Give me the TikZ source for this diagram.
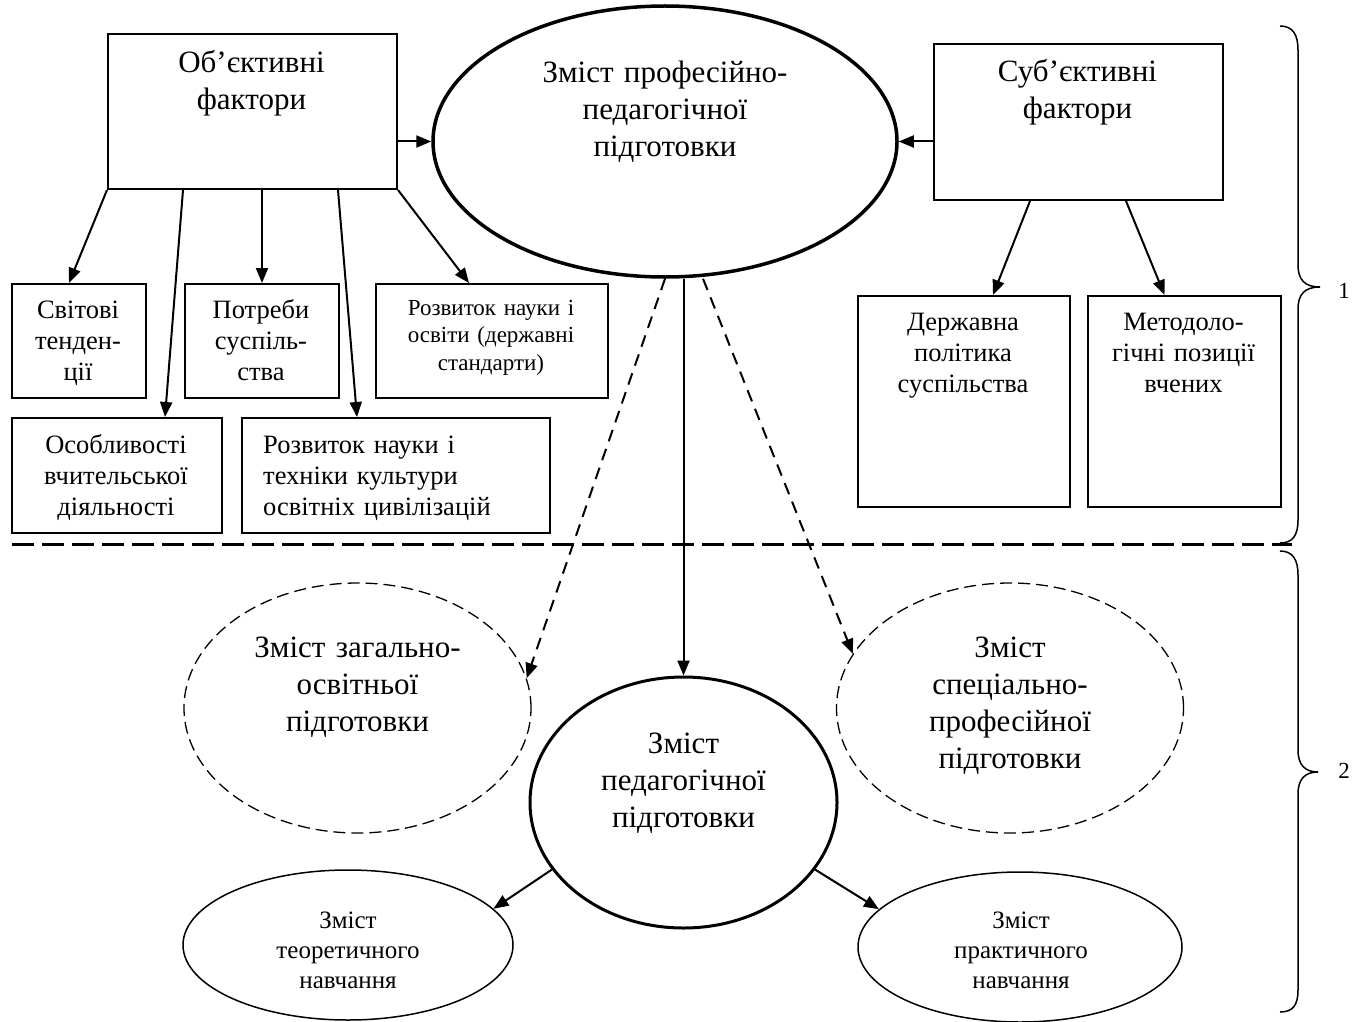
\documentclass[tikz,border=0pt]{standalone}
\usepackage{fontspec}
\setmainfont{Liberation Serif}
\usetikzlibrary{shapes.geometric,arrows.meta}
\tikzset{
  box/.style={draw, line width=2pt, inner sep=0pt, anchor=north west},
  lbl/.style={anchor=base, align=center, inner sep=0pt, text width=340pt},
  big/.style={font=\fontsize{31}{37}\selectfont},
  mid/.style={font=\fontsize{26.5}{31}\selectfont},
  sml/.style={font=\fontsize{23}{27.5}\selectfont},
  arr/.style={line width=2pt, -{Triangle[length=15pt,width=12pt]}},
  darr/.style={line width=2pt, dash pattern=on 12pt off 8pt, -{Triangle[length=15pt,width=12pt]}},
  oval/.style={ellipse, draw, inner sep=0pt},
}
\begin{document}
\begin{tikzpicture}[x=1pt,y=-1pt]
\useasboundingbox (0,0) rectangle (1362,1022);
% top boxes
\node[box, minimum width=289pt, minimum height=155pt] (obj) at (107,33) {};
\node[box, minimum width=289pt, minimum height=156pt] (sub) at (933,43) {};
\node[lbl, big] (objt) at (251.5,73) {Об’єктивні\\фактори};
\node[lbl, big] (subt) at (1077.5,82) {Суб’єктивні\\фактори};
% main ellipse
\node[oval, line width=3.5pt, minimum width=464pt, minimum height=271pt] (main) at (665,141.5) {};
\node[lbl, big] (maint) at (665,83) {Зміст професійно-\\педагогічної\\підготовки};
% small boxes
\node[box, minimum width=134pt, minimum height=114pt] (svit) at (11,283) {};
\node[box, minimum width=154pt, minimum height=114pt] (potr) at (184,283) {};
\node[box, minimum width=232pt, minimum height=114pt] (rozo) at (375,283) {};
\node[box, minimum width=210pt, minimum height=115pt] (osob) at (11,417) {};
\node[box, minimum width=308pt, minimum height=115pt] (rozt) at (241,417) {};
\node[lbl, mid] (svitt) at (78,318) {Світові\\тенден-\\ції};
\node[lbl, mid] (potrt) at (261,318) {Потреби\\суспіль-\\ства};
\node[lbl, sml] (rozot) at (491,315) {Розвиток науки і\\освіти (державні\\стандарти)};
\node[lbl, mid] (osobt) at (116,453) {Особливості\\вчительської\\діяльності};
\node[anchor=base west, align=left, text width=280pt, inner sep=0pt, mid] (roztt) at (263,453) {Розвиток науки і\\техніки культури\\освітніх цивілізацій};
% right boxes
\node[box, minimum width=212pt, minimum height=211pt] (derzh) at (857,295) {};
\node[box, minimum width=193pt, minimum height=211pt] (metod) at (1087,295) {};
\node[lbl, mid] (derzht) at (963,330) {Державна\\політика\\суспільства};
\node[lbl, mid] (metodt) at (1183.5,330) {Методоло-\\гічні позиції\\вчених};
% arrows top
\draw[arr] (main.west -| obj.east) -- (main.west);
\draw[arr] (main.east -| sub.west) -- (main.east);
\draw[arr] (obj.south west) -- ([xshift=-10pt]svit.north);
\draw[arr] ([xshift=76pt]obj.south west) -- ([xshift=48pt]osob.north);
\draw[arr] (potr.north |- obj.south) -- (potr.north);
\draw[arr] ([xshift=231pt]obj.south west) -- ([xshift=-39pt]rozt.north);
\draw[arr] (obj.south east) -- ([xshift=-23pt]rozo.north);
\draw[arr] ([xshift=97pt]sub.south west) -- ([xshift=29pt]derzh.north);
\draw[arr] ([xshift=193pt]sub.south west) -- ([xshift=-20pt]metod.north);
% separator
\draw[line width=3pt, dash pattern=on 22pt off 8pt] (12,544) -- (1292,544);
% braces
\draw[line width=1.5pt] (1280,26) .. controls (1293,26) and (1298,35) .. (1298,50) -- (1298,265)
  .. controls (1298,280) and (1305,287) .. (1320,287) .. controls (1305,287) and (1298,294) .. (1298,309)
  -- (1298,520) .. controls (1298,535) and (1293,543) .. (1280,543);
\draw[line width=1.5pt] (1280,551) .. controls (1293,551) and (1298,560) .. (1298,575) -- (1298,750)
  .. controls (1298,765) and (1305,772) .. (1318,772) .. controls (1305,772) and (1298,779) .. (1298,794)
  -- (1298,990) .. controls (1298,1005) and (1293,1012) .. (1280,1012);
\node[anchor=base, inner sep=0pt, font=\fontsize{23}{27}\selectfont] (one) at (1344,298) {1};
\node[anchor=base, inner sep=0pt, font=\fontsize{23}{27}\selectfont] (two) at (1344,778) {2};
% lower ellipses
\node[oval, line width=1.3pt, dash pattern=on 12pt off 6pt, minimum width=347pt, minimum height=250pt] (gen) at (357.5,708) {};
\node[oval, line width=1.3pt, dash pattern=on 12pt off 6pt, minimum width=347pt, minimum height=250pt] (spec) at (1010,708) {};
\node[oval, line width=3pt, minimum width=307pt, minimum height=251pt] (ped) at (683.5,802.5) {};
\node[oval, line width=1.5pt, minimum width=330pt, minimum height=150pt] (theor) at (348,945) {};
\node[oval, line width=1.5pt, minimum width=324pt, minimum height=150pt] (prak) at (1020,947) {};
\node[lbl, big] (gent) at (357.5,657) {Зміст загально-\\освітньої\\підготовки};
\node[lbl, big] (spect) at (1010,657) {Зміст\\спеціально-\\професійної\\підготовки};
\node[lbl, big] (pedt) at (683.5,753) {Зміст\\педагогічної\\підготовки};
\node[lbl, font=\fontsize{25}{30}\selectfont] (theort) at (348,928) {Зміст\\теоретичного\\навчання};
\node[lbl, font=\fontsize{25}{30}\selectfont] (prakt) at (1021,928) {Зміст\\практичного\\навчання};
% lower arrows
\draw[arr] (main.south -| ped.north) -- (ped.north);
\draw[darr] (main.south) -- (gen.10);
\draw[darr] ([xshift=38pt]main.south) -- (spec.161.5);
\draw[arr] (ped.207) -- (theor.14);
\draw[arr] (ped.333) -- (prak.165);
\end{tikzpicture}
\end{document}
